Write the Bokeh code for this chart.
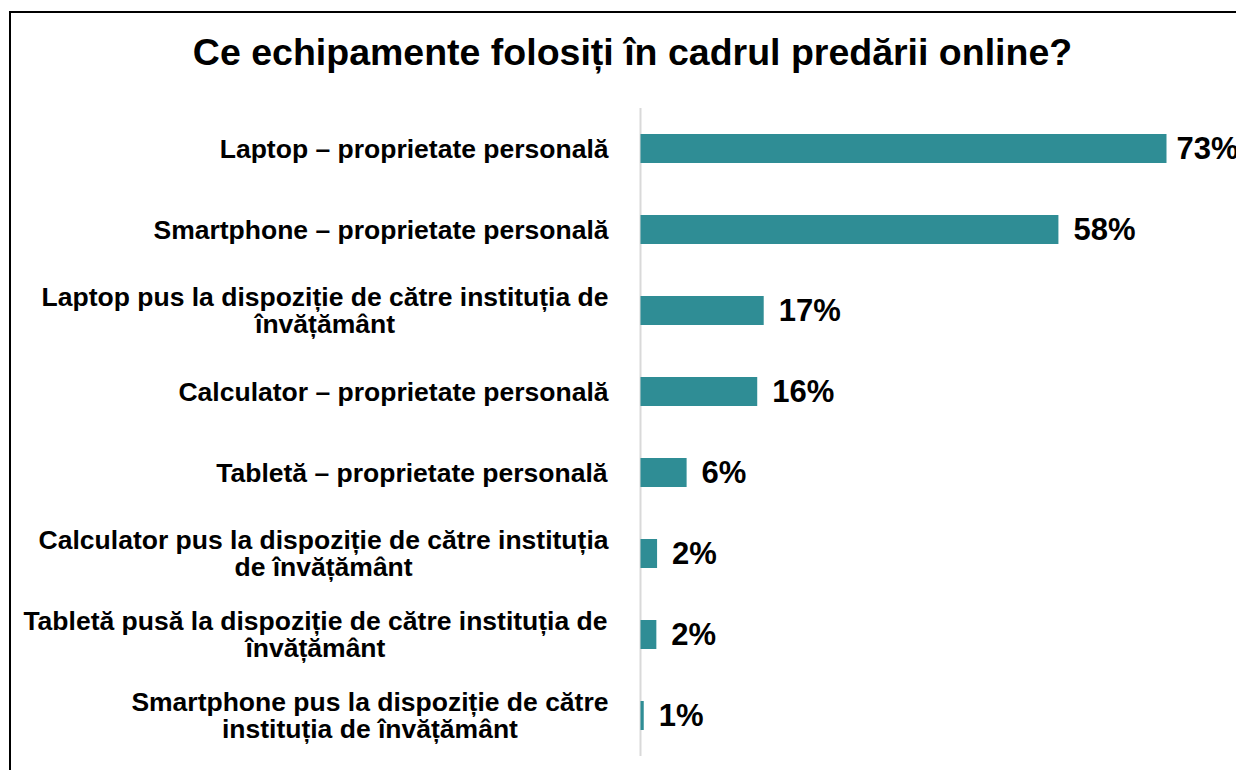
import numpy as np
from bokeh.plotting import figure
from bokeh.models import ColumnDataSource, Range1d, Label
from bokeh.core.properties import value
from bokeh.embed import file_html
from bokeh.resources import INLINE

# ---- data ----
title_text = "Ce echipamente folosiți în cadrul predării online?"
categories = [
    "Laptop – proprietate personală",
    "Smartphone – proprietate personală",
    "Laptop pus la dispoziție de către instituția de\nînvățământ",
    "Calculator – proprietate personală",
    "Tabletă – proprietate personală",
    "Calculator pus la dispoziție de către instituția\nde învățământ",
    "Tabletă pusă la dispoziție de către instituția de\nînvățământ",
    "Smartphone pus la dispoziție de către\ninstituția de învățământ",
]
values = [73, 58, 17.1, 16.2, 6.4, 2.3, 2.2, 0.45]
value_labels = ["73%", "58%", "17%", "16%", "6%", "2%", "2%", "1%"]

# ---- layout ----
W, H = 1236, 770
FONT = "Liberation Sans"
BAR_COLOR = "#2F8D95"
origin_px = 640.0           # canvas x of the 0 % line
px_per_unit = 526.0 / 73.0  # pixels per percent
row0_px = 148.0             # canvas y of first row centre
row_px = 81.0               # pixels between rows
label_size = 26.5
label_gap = 32              # px between label block and the 0 line

def px_to_x(px):
    return (px - origin_px) / px_per_unit

def px_to_y(py):
    return (py - row0_px) / row_px

# Arial/Liberation Sans Bold advance widths (per 1000 em)
AW = {" ": 278, "–": 556, "a": 556, "ă": 556, "â": 556, "b": 611, "c": 556, "d": 611,
      "e": 556, "f": 333, "g": 611, "h": 611, "i": 278, "î": 278, "k": 556, "l": 278,
      "m": 889, "n": 611, "o": 611, "p": 611, "r": 389, "s": 556, "ș": 556, "t": 333,
      "ț": 333, "u": 611, "v": 556, "z": 500, "y": 556, "C": 722, "L": 611, "S": 667, "T": 611}

def text_w(s, size):
    return sum(AW.get(ch, 556) for ch in s) * size / 1000.0

n = len(categories)
ypos = np.arange(n)
block_w = [max(text_w(l, label_size) for l in c.split("\n")) for c in categories]
xoff = [-(label_gap + w / 2.0) for w in block_w]
voff = [10 if i == 0 else 15 for i in range(n)]

src = ColumnDataSource(dict(y=ypos, v=values, lab=value_labels, cat=categories,
                            xoff=xoff, voff=voff))

p = figure(width=W, height=H, output_backend="svg", toolbar_location=None,
           x_range=Range1d(px_to_x(0), px_to_x(W)),
           y_range=Range1d(px_to_y(H), px_to_y(0)),
           min_border=0, x_axis_location=None, y_axis_location=None)
p.xgrid.visible = False
p.ygrid.visible = False
p.outline_line_color = None
p.background_fill_color = "white"
p.border_fill_color = "white"

# frame border (only left & top edges are visible in the reference)
bx, by = px_to_x(9.5), px_to_y(11.5)
p.segment(x0=[bx, bx - 0.14], y0=[by - 0.012, by], x1=[bx, px_to_x(W + 10)], y1=[px_to_y(H + 10), by],
          line_color="black", line_width=2)

# vertical axis line
p.segment(x0=0, y0=-0.5, x1=0, y1=n - 0.5, line_color="#D9D9D9", line_width=2)

# bars
p.hbar(y="y", left=0, right="v", height=29.0 / row_px, source=src,
       fill_color=BAR_COLOR, line_color=None)

# value labels
p.text(x="v", y="y", text="lab", source=src, x_offset="voff",
       text_font=value(FONT),
       text_font_style="bold", text_font_size="31px", text_color="black",
       text_baseline="middle", text_align="left")

# category labels (right block, centred lines)
p.text(x=0, y="y", text="cat", source=src, x_offset="xoff",
       text_font=value(FONT),
       text_font_style="bold", text_font_size=f"{label_size}px", text_color="black",
       text_baseline="middle", text_align="center", text_line_height=0.9)

# title
p.add_layout(Label(x=px_to_x(632), y=px_to_y(51), text=title_text,
                   text_font=FONT, text_font_style="bold", text_font_size="37.5px",
                   text_color="black", text_align="center", text_baseline="middle"))

open("out.html", "w").write(file_html(p, INLINE))
